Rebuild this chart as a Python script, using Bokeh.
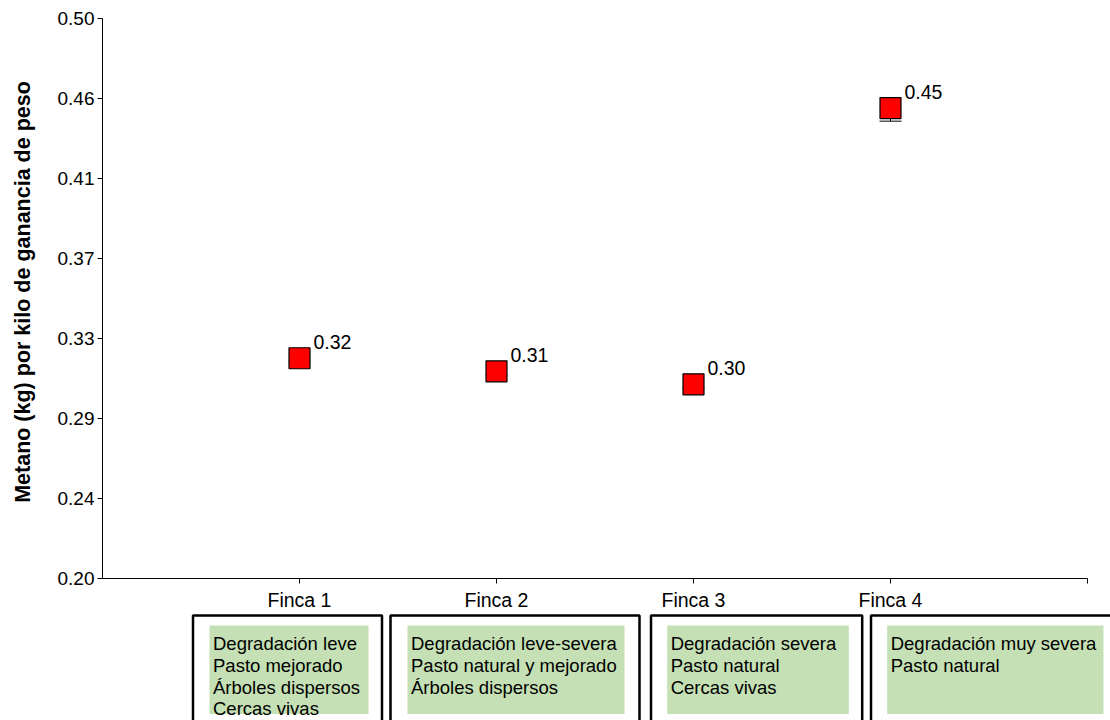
import math
from bokeh.plotting import figure
from bokeh.models import (Range1d, FixedTicker, PrintfTickFormatter, ColumnDataSource,
                          LinearAxis)
from bokeh.core.properties import value
from bokeh.embed import file_html
from bokeh.resources import INLINE

# ---------------- data ----------------
fincas = ["Finca 1", "Finca 2", "Finca 3", "Finca 4"]
metano = [0.318, 0.311, 0.304, 0.452]
err_low = [0.316, 0.309, 0.302, 0.445]
err_high = [0.320, 0.313, 0.306, 0.454]
ytick_labels = ["0.20", "0.24", "0.29", "0.33", "0.37", "0.41", "0.46", "0.50"]
y_title = "Metano (kg) por kilo de ganancia de peso"
descripciones = [
    ["Degradación leve", "Pasto mejorado", "Árboles dispersos", "Cercas vivas"],
    ["Degradación leve-severa", "Pasto natural y mejorado", "Árboles dispersos"],
    ["Degradación severa", "Pasto natural", "Cercas vivas"],
    ["Degradación muy severa", "Pasto natural"],
]

FONT = value("Liberation Sans")
W, H = 1110, 720
AX_L, AX_R = 102, 1087      # pixels where x=0 and x=5 fall
AX_T, AX_B = 18, 578        # pixels where y=0.50 and y=0.20 fall
Y0, Y1 = 0.2, 0.5
X0, X1 = 0, 5

# ranges extended so the frame covers the whole canvas (axes sit at fixed locations)
ypp = (Y1 - Y0) / (AX_B - AX_T)
xpp = (X1 - X0) / (AX_R - AX_L)
y_range = Range1d(Y0 - (H - AX_B) * ypp, Y1 + AX_T * ypp)
x_range = Range1d(X0 - AX_L * xpp, X1 + (W - AX_R) * xpp)

xpos = list(range(1, len(fincas) + 1))
src = ColumnDataSource(dict(
    x=xpos, y=metano, lo=err_low, hi=err_high,
    lab=[f"{v:.2f}" for v in metano],
))

p = figure(width=W, height=H, output_backend="svg", toolbar_location=None,
           x_range=x_range, y_range=y_range,
           x_axis_location=None, y_axis_location=None, min_border=0)
p.outline_line_color = None
p.grid.visible = False
p.background_fill_color = "white"
p.border_fill_color = "white"

# pixel helper ranges for the annotations around the chart
p.extra_x_ranges = {"px": Range1d(0, W)}
p.extra_y_ranges = {"px": Range1d(H, 0)}

# axes
yt = [Y0 + i * (Y1 - Y0) / 7 for i in range(8)]
yaxis = LinearAxis(bounds=(Y0, Y1), fixed_location=X0)
yaxis.ticker = FixedTicker(ticks=yt, minor_ticks=[])
yaxis.formatter = PrintfTickFormatter(format="%.2f")
yaxis.major_label_overrides = {t: l for t, l in zip(yt, ytick_labels)}

xaxis = LinearAxis(bounds=(X0, X1), fixed_location=Y0)
xaxis.ticker = FixedTicker(ticks=xpos + [X1], minor_ticks=[])
ov = {x: f for x, f in zip(xpos, fincas)}
ov[X1] = ""
xaxis.major_label_overrides = ov

for ax in (xaxis, yaxis):
    ax.axis_line_color = "black"
    ax.axis_line_width = 1
    ax.major_tick_line_color = "black"
    ax.major_tick_out = 5
    ax.major_tick_in = 0
    ax.minor_tick_out = 0
    ax.minor_tick_in = 0
    ax.major_label_text_font = "Liberation Sans"
    ax.major_label_text_font_size = "19px"
    ax.major_label_text_color = "black"
xaxis.major_label_text_font_size = "19.5px"
yaxis.major_label_standoff = 3
xaxis.major_label_standoff = 5

p.add_layout(yaxis, "left")
p.add_layout(xaxis, "below")

# y-axis title
p.text(x=[22.5], y=[(80 + 503) / 2], text=[y_title], angle=math.pi / 2,
       x_range_name="px", y_range_name="px",
       text_font=FONT, text_font_size="21.5px", text_font_style="bold",
       text_color="black", text_align="center", text_baseline="middle")

# ---------------- description boxes (layout in pixels) ----------------
OUT_L = [192.5, 390, 650.5, 870.5]
OUT_R = [381.5, 639, 861.7, 1125]
GRN_L = [209, 407, 666.7, 886.7]
GRN_R = [368, 624, 848.3, 1103]
BOX_TOP, GRN_TOP, GRN_BOT, BOX_BOT = 615, 625, 713.5, 760
LINE_Y = [643.3, 665.0, 686.7, 708.3]
n = len(descripciones)

p.quad(left=GRN_L, right=GRN_R, top=[GRN_TOP] * n, bottom=[GRN_BOT] * n,
       x_range_name="px", y_range_name="px",
       fill_color="#C5E0B4", line_color=None)
p.quad(left=OUT_L, right=OUT_R, top=[BOX_TOP] * n, bottom=[BOX_BOT] * n,
       x_range_name="px", y_range_name="px",
       fill_color=None, line_color="black", line_width=2.5)

tx, ty, tt = [], [], []
for i, lines in enumerate(descripciones):
    for j, line in enumerate(lines):
        tx.append(GRN_L[i] + 3.5)
        ty.append(LINE_Y[j])
        tt.append(line)
p.text(x=tx, y=ty, text=tt, x_range_name="px", y_range_name="px",
       text_font=FONT, text_font_size="18.5px", text_color="black",
       text_baseline="alphabetic", text_align="left")

# ---------------- data marks ----------------
p.segment(x0="x", y0="lo", x1="x", y1="hi", source=src, line_color="black", line_width=1)
p.scatter(x="x", y="lo", source=src, marker="dash", size=22, line_color="black", line_width=1)
p.scatter(x="x", y="y", source=src, marker="square", size=21,
          fill_color="#FF0000", line_color="black", line_width=1.2)
p.text(x="x", y="y", text="lab", source=src, x_offset=14, y_offset=-16,
       text_font=FONT, text_font_size="19.5px", text_color="black",
       text_baseline="alphabetic", text_align="left")

open("out.html", "w").write(file_html(p, INLINE))
